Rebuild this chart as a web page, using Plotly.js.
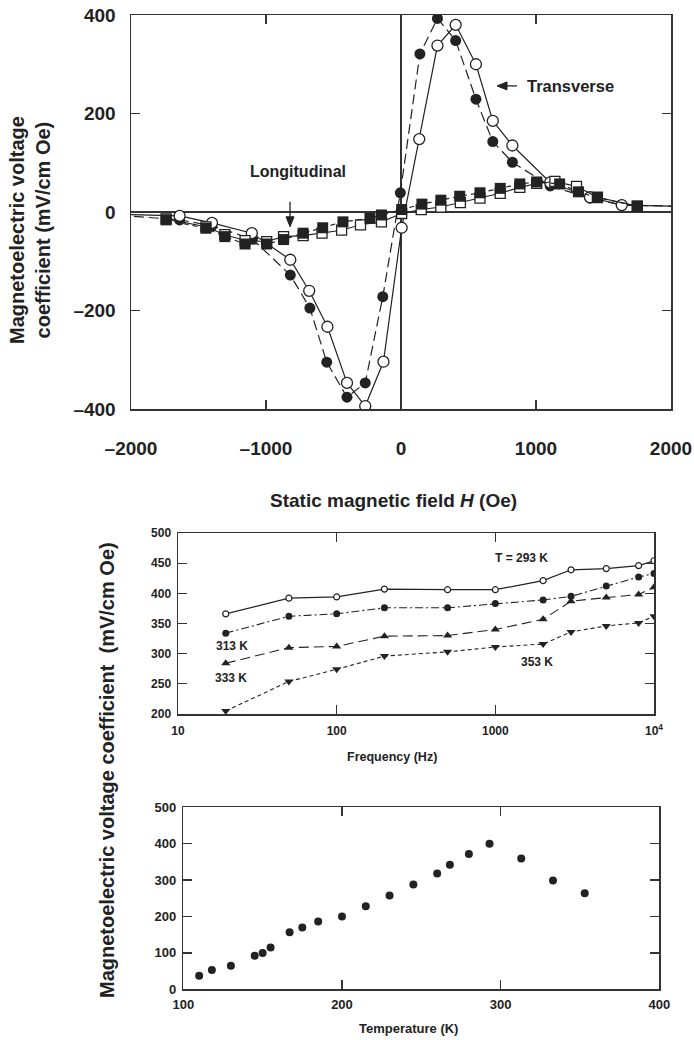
<!DOCTYPE html>
<html>
<head>
<meta charset="utf-8">
<script src="https://cdn.plot.ly/plotly-3.0.1.min.js"></script>
<style>html,body{margin:0;padding:0;background:#fff;}#chart{width:694px;height:1040px;}</style>
</head>
<body>
<div id="chart"></div>
<script>
// ---------- Panel 1: ME coefficient vs static field ----------
const transFilledH = [-2200, -1640, -1400, -1100, -820, -675, -550, -400, -265, -135, -5, 140, 270, 405, 555, 680, 825, 1105, 1400, 1635, 2200];
const transFilledV = [-4, -16, -28, -55, -128, -195, -305, -376, -347, -172, 39, 321, 393, 348, 229, 143, 101, 53, 28, 14, 11];
const transOpenH = [-2200, -1640, -1400, -1105, -820, -680, -545, -400, -265, -130, 5, 135, 270, 405, 555, 680, 825, 1105, 1400, 1635, 2200];
const transOpenV = [-4, -8, -22, -43, -97, -160, -233, -347, -394, -304, -32, 148, 338, 380, 300, 185, 135, 60, 30, 14, 11];
const longFilledH = [-1740, -1445, -1305, -1155, -995, -870, -725, -580, -430, -230, -145, 5, 155, 295, 435, 585, 735, 880, 1005, 1175, 1315, 1455, 1750];
const longFilledV = [-16, -33, -50, -65, -65, -56, -43, -32, -20, -13, -6, 5, 16, 24, 32, 39, 48, 57, 61, 57, 41, 29, 12];
const longOpenH = [-1740, -1445, -1305, -1155, -995, -870, -725, -585, -440, -300, -145, 5, 150, 295, 440, 585, 735, 880, 1005, 1140, 1300, 1455, 1750];
const longOpenV = [-14, -30, -46, -58, -60, -50, -48, -43, -37, -26, -20, -3, 5, 10, 19, 28, 38, 50, 58, 62, 52, 30, 12];
const fieldTicks = [-2000, -1000, 0, 1000, 2000];
const fieldTickText = ['\u20132000', '\u20131000', '0', '1000', '2000'];
const coefTicks = [-400, -200, 0, 200, 400];
const coefTickText = ['\u2013400', '\u2013200', '0', '200', '400'];

// ---------- Panel 2: ME coefficient vs frequency ----------
const freqHz = [20, 50, 100, 200, 500, 1000, 2000, 3000, 5000, 8000, 10000];
const me293K = [366, 392, 394, 407, 406, 406, 421, 439, 441, 446, 454];
const me313K = [334, 362, 366, 376, 376, 383, 389, 395, 412, 427, 433];
const me333K = [284, 310, 312, 329, 330, 340, 357, 387, 393, 398, 410];
const me353K = [205, 254, 274, 296, 303, 311, 316, 336, 346, 351, 362];
const freqTicks = [10, 100, 1000, 10000];
const freqTickText = ['10', '100', '1000', '10<sup>4</sup>'];

// ---------- Panel 3: ME coefficient vs temperature ----------
const tempK = [110, 118, 130, 145, 150, 155, 167, 175, 185, 200, 215, 230, 245, 260, 268, 280, 293, 313, 333, 353];
const meTemp = [37, 53, 65, 92, 100, 115, 157, 170, 186, 200, 228, 258, 288, 318, 342, 372, 400, 359, 299, 264];

const FONT = 'Liberation Sans, Arial, Helvetica, sans-serif';
const INK = '#222';
const AX = '#333';
const W = 694, H = 1040;
function fx(p) { return p / W; }
function fy(p) { return 1 - p / H; }

// top panel pixel geometry (for arrow shapes only)
const P1 = {x0: 131, x1: 671, y0: 409, y1: 15, xr: [-2000, 2000], yr: [-400, 400]};
const ox = (P1.xr[1] - P1.xr[0]) / (P1.x1 - P1.x0);   // Oe per px
const oy = (P1.yr[1] - P1.yr[0]) / (P1.y0 - P1.y1);   // units per px

const traces = [
  {x: transFilledH, y: transFilledV, xaxis: 'x', yaxis: 'y', mode: 'lines+markers', cliponaxis: true,
   line: {color: INK, width: 1.2, dash: '10px,5px'},
   marker: {symbol: 'circle', size: 11, color: INK, line: {width: 0}}},
  {x: transOpenH, y: transOpenV, xaxis: 'x', yaxis: 'y', mode: 'lines+markers', cliponaxis: true,
   line: {color: INK, width: 1.2},
   marker: {symbol: 'circle', size: 11, color: '#fff', line: {color: INK, width: 1.3}}},
  {x: longOpenH, y: longOpenV, xaxis: 'x', yaxis: 'y', mode: 'lines+markers', cliponaxis: true,
   line: {color: INK, width: 1.1},
   marker: {symbol: 'square', size: 10, color: '#fff', line: {color: INK, width: 1.3}}},
  {x: longFilledH, y: longFilledV, xaxis: 'x', yaxis: 'y', mode: 'lines+markers', cliponaxis: true,
   line: {color: INK, width: 1.2, dash: '5px,4px'},
   marker: {symbol: 'square', size: 11, color: INK, line: {width: 0}}},

  {x: freqHz, y: me293K, xaxis: 'x2', yaxis: 'y2', mode: 'lines+markers',
   line: {color: INK, width: 1.2},
   marker: {symbol: 'circle', size: 6, color: '#fff', line: {color: INK, width: 1.2}}},
  {x: freqHz, y: me313K, xaxis: 'x2', yaxis: 'y2', mode: 'lines+markers',
   line: {color: INK, width: 1.1, dash: '8px,3px,2px,3px'},
   marker: {symbol: 'circle', size: 7, color: INK}},
  {x: freqHz, y: me333K, xaxis: 'x2', yaxis: 'y2', mode: 'lines+markers',
   line: {color: INK, width: 1.1, dash: '10px,5px'},
   marker: {symbol: 'triangle-up', size: 8, color: INK}},
  {x: freqHz, y: me353K, xaxis: 'x2', yaxis: 'y2', mode: 'lines+markers',
   line: {color: INK, width: 1.1, dash: '4px,3px'},
   marker: {symbol: 'triangle-down', size: 8, color: INK}},

  {x: tempK, y: meTemp, xaxis: 'x3', yaxis: 'y3', mode: 'markers',
   marker: {symbol: 'circle', size: 8, color: INK}}
];

function axisBase(fontSize, standoff) {
  return {
    showgrid: false, zeroline: false, showline: true, linecolor: AX, linewidth: 1.5,
    mirror: 'ticks', ticks: 'inside', ticklen: 9, tickwidth: 1.2, tickcolor: AX,
    tickfont: {family: FONT, size: fontSize, color: INK, weight: 'bold'},
    ticklabelstandoff: standoff, fixedrange: true
  };
}

// arrow helpers (positions of the two annotation arrows, in the top panel)
const downHeadX = -822, downHeadY = -30;
const leftHeadX = 711, leftHeadY = 256;
const shapes = [
  {type: 'line', xref: 'x', yref: 'y', x0: downHeadX, x1: downHeadX, y0: downHeadY + 6 * oy, y1: downHeadY + 25 * oy,
   line: {color: INK, width: 1.3}},
  {type: 'path', xref: 'x', yref: 'y', fillcolor: INK, line: {color: INK, width: 1},
   path: 'M' + downHeadX + ',' + downHeadY + ' L' + (downHeadX - 4 * ox) + ',' + (downHeadY + 10 * oy) +
         ' L' + (downHeadX + 4 * ox) + ',' + (downHeadY + 10 * oy) + ' Z'},
  {type: 'line', xref: 'x', yref: 'y', x0: leftHeadX + 6 * ox, x1: leftHeadX + 20 * ox, y0: leftHeadY, y1: leftHeadY,
   line: {color: INK, width: 1.3}},
  {type: 'path', xref: 'x', yref: 'y', fillcolor: INK, line: {color: INK, width: 1},
   path: 'M' + leftHeadX + ',' + leftHeadY + ' L' + (leftHeadX + 10 * ox) + ',' + (leftHeadY + 4 * oy) +
         ' L' + (leftHeadX + 10 * ox) + ',' + (leftHeadY - 4 * oy) + ' Z'}
];

const layout = {
  width: W, height: H,
  margin: {l: 0, r: 0, t: 0, b: 0},
  paper_bgcolor: '#fff', plot_bgcolor: '#fff',
  showlegend: false,
  font: {family: FONT, color: INK},
  xaxis: Object.assign(axisBase(19, 22), {
    domain: [fx(131), fx(671)], anchor: 'y', range: [-2000, 2000],
    tickmode: 'array', tickvals: fieldTicks, ticktext: fieldTickText,
    zeroline: true, zerolinecolor: AX, zerolinewidth: 1.4
  }),
  yaxis: Object.assign(axisBase(19, 10), {
    domain: [fy(409), fy(15)], anchor: 'x', range: [-400, 400],
    tickmode: 'array', tickvals: coefTicks, ticktext: coefTickText,
    zeroline: true, zerolinecolor: AX, zerolinewidth: 1.4
  }),
  xaxis2: Object.assign(axisBase(12, 5), {
    domain: [fx(178), fx(654)], anchor: 'y2', type: 'log', range: [1, 4],
    tickmode: 'array', tickvals: freqTicks, ticktext: freqTickText
  }),
  yaxis2: Object.assign(axisBase(12, 3), {
    domain: [fy(714), fy(533)], anchor: 'x2', range: [200, 500], dtick: 50
  }),
  xaxis3: Object.assign(axisBase(13, 3), {
    domain: [fx(183.3), fx(659.3)], anchor: 'y3', range: [100, 400], dtick: 100
  }),
  yaxis3: Object.assign(axisBase(13, 3), {
    domain: [fy(989.3), fy(807.3)], anchor: 'x3', range: [0, 500], dtick: 100
  }),
  shapes: shapes,
  annotations: [
    // axis titles
    {xref: 'paper', yref: 'paper', x: fx(30), y: fy(230), xanchor: 'center', yanchor: 'middle',
     textangle: -90, showarrow: false,
     text: 'Magnetoelectric voltage<br>coefficient (mV/cm Oe)', font: {size: 20, weight: 'bold', color: INK}},
    {xref: 'paper', yref: 'paper', x: fx(393), y: fy(500), xanchor: 'center', yanchor: 'middle', showarrow: false,
     text: 'Static magnetic field <i>H</i> (Oe)', font: {size: 19, weight: 'bold', color: INK}},
    {xref: 'paper', yref: 'paper', x: fx(107), y: fy(770), xanchor: 'center', yanchor: 'middle',
     textangle: -90, showarrow: false,
     text: 'Magnetoelectric voltage coefficient  (mV/cm Oe)', font: {size: 20, weight: 'bold', color: INK}},
    {xref: 'paper', yref: 'paper', x: fx(392), y: fy(757), xanchor: 'center', yanchor: 'middle', showarrow: false,
     text: 'Frequency (Hz)', font: {size: 12.5, weight: 'bold', color: INK}},
    {xref: 'paper', yref: 'paper', x: fx(408), y: fy(1028), xanchor: 'center', yanchor: 'middle', showarrow: false,
     text: 'Temperature (K)', font: {size: 13, weight: 'bold', color: INK}},
    // panel 1 labels
    {xref: 'x', yref: 'y', x: -764, y: 82, xanchor: 'center', yanchor: 'middle', showarrow: false, text: 'Longitudinal',
     font: {size: 16, weight: 'bold', color: INK}},
    {xref: 'x', yref: 'y', x: 1252, y: 256, xanchor: 'center', yanchor: 'middle', showarrow: false, text: 'Transverse',
     font: {size: 16.5, weight: 'bold', color: INK}},
    // panel 2 labels (log axis: x in log10 units)
    {xref: 'x2', yref: 'y2', x: Math.log10(1456), y: 459, xanchor: 'center', yanchor: 'middle', showarrow: false,
     text: 'T = 293 K', font: {size: 12, weight: 'bold', color: INK}},
    {xref: 'x2', yref: 'y2', x: Math.log10(22), y: 313, xanchor: 'center', yanchor: 'middle', showarrow: false,
     text: '313 K', font: {size: 12, weight: 'bold', color: INK}},
    {xref: 'x2', yref: 'y2', x: Math.log10(21.5), y: 260, xanchor: 'center', yanchor: 'middle', showarrow: false,
     text: '333 K', font: {size: 12, weight: 'bold', color: INK}},
    {xref: 'x2', yref: 'y2', x: Math.log10(1825), y: 286, xanchor: 'center', yanchor: 'middle', showarrow: false,
     text: '353 K', font: {size: 12, weight: 'bold', color: INK}}
  ]
};

Plotly.newPlot('chart', traces, layout, {staticPlot: true, displayModeBar: false});
</script>
</body>
</html>
